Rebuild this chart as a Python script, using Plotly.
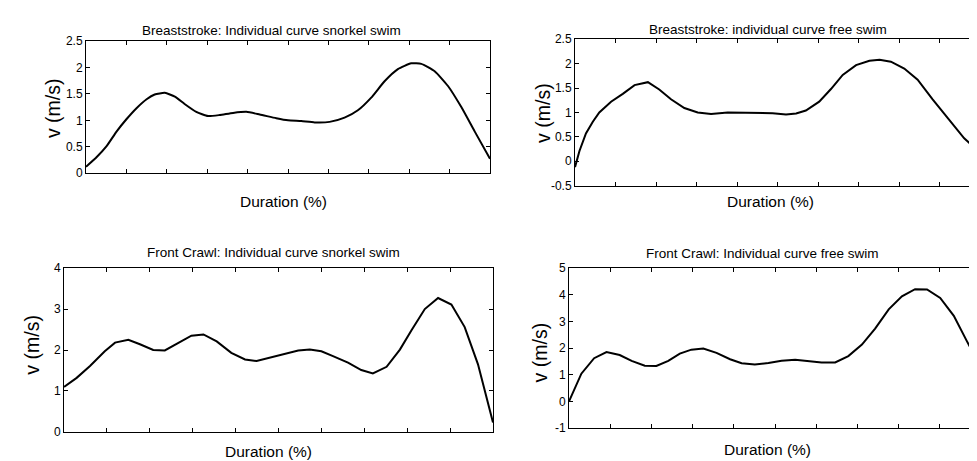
import plotly.graph_objects as go

W, H = 977, 461

# ---- data (Duration %, velocity m/s) ----
bs_snorkel_x = [0, 2.6, 5.1, 7.6, 10, 12.5, 15, 17, 19.5, 22, 24.4, 27.3, 30.2, 33.1, 36.4, 39.7, 43, 47.1, 50,
                53.3, 56.6, 60.3, 64, 67.3, 70.6, 73.9, 77.2, 80.5, 83, 86.3, 89.6, 92.9, 96.2, 100]
bs_snorkel_v = [0.12, 0.30, 0.51, 0.79, 1.02, 1.23, 1.40, 1.49, 1.52, 1.45, 1.31, 1.16, 1.08, 1.10, 1.14, 1.16, 1.11, 1.04, 1.0,
                0.985, 0.96, 0.97, 1.05, 1.19, 1.43, 1.74, 1.97, 2.08, 2.07, 1.93, 1.65, 1.25, 0.79, 0.27]

bs_free_x = [0, 1.1, 2.7, 4.4, 6.0, 8.9, 11.8, 14.7, 18.0, 20.8, 23.7, 27.0, 30.3, 33.6, 37.7, 43, 48.8, 52.1, 54.6,
             57.0, 60.3, 63.2, 66.1, 69.4, 72.7, 75.2, 78.0, 81.3, 84.6, 88.3, 92.4, 96.1, 100]
bs_free_v = [-0.12, 0.21, 0.57, 0.81, 1.0, 1.22, 1.38, 1.56, 1.62, 1.47, 1.27, 1.09, 1.0, 0.97, 1.0, 1.0, 0.985, 0.96, 0.98,
             1.04, 1.22, 1.48, 1.77, 1.97, 2.06, 2.08, 2.04, 1.90, 1.67, 1.27, 0.84, 0.47, 0.18]

fc_snorkel_x = [0, 2.95, 6.06, 9.5, 11.9, 15, 17.7, 20.8, 23.5, 26.6, 29.7, 32.5, 35.6, 39, 42.2, 44.9, 48, 51.5, 54.6, 57.3,
                60, 62.7, 66.2, 69.3, 72, 75.2, 78.3, 81, 84.1, 87.2, 90.3, 93.4, 96.5, 100]
fc_snorkel_v = [1.1, 1.32, 1.61, 1.97, 2.18, 2.25, 2.14, 2.0, 1.99, 2.17, 2.35, 2.38, 2.21, 1.93, 1.77, 1.73, 1.81, 1.91, 1.99, 2.01,
                1.97, 1.85, 1.69, 1.51, 1.43, 1.59, 2.01, 2.48, 3.0, 3.27, 3.11, 2.56, 1.65, 0.23]

fc_free_x = [0, 3, 6.1, 9.1, 12.3, 15.2, 18.4, 21.2, 24.1, 26.9, 29.7, 32.6, 35.8, 39.1, 41.9, 45.1, 48.4, 51.6, 54.9, 58.1,
             61.3, 64.6, 67.8, 71.1, 74.3, 77.6, 80.8, 84, 86.9, 90.1, 93.4, 96.6, 100]
fc_free_v = [0.0, 1.04, 1.62, 1.85, 1.74, 1.52, 1.34, 1.33, 1.52, 1.79, 1.94, 1.98, 1.82, 1.58, 1.43, 1.38, 1.44, 1.52, 1.56, 1.52,
             1.46, 1.46, 1.70, 2.13, 2.73, 3.45, 3.94, 4.21, 4.2, 3.88, 3.21, 2.25, 1.28]

titles = ["Breaststroke: Individual curve snorkel swim",
          "Breaststroke: individual curve free swim",
          "Front Crawl: Individual curve snorkel swim",
          "Front Crawl: Individual curve free swim"]

y_ticks = [[0, 0.5, 1, 1.5, 2, 2.5],
           [-0.5, 0, 0.5, 1, 1.5, 2, 2.5],
           [0, 1, 2, 3, 4],
           [-1, 0, 1, 2, 3, 4, 5]]
y_tick_text = [["0", "0.5", "1", "1.5", "2", "2.5"],
               ["-0.5", "0", "0.5", "1", "1.5", "2", "2.5"],
               ["0", "1", "2", "3", "4"],
               ["-1", "0", "1", "2", "3", "4", "5"]]
x_ticks = [0, 10, 20, 30, 40, 50, 60, 70, 80, 90, 100]

series = [(bs_snorkel_x, bs_snorkel_v, "spline"),
          (bs_free_x, bs_free_v, "linear"),
          (fc_snorkel_x, fc_snorkel_v, "linear"),
          (fc_free_x, fc_free_v, "linear")]

# plot-area pixel boxes: left, right, top, bottom
boxes = [(78, 482, 27, 163), (567, 972, 25, 176), (56, 485, 261, 430), (561, 973, 261, 426)]
title_pos = [(263, 16), (760, 15), (265, 245), (754, 246)]
xlab_pos = [(275, 192), (762, 192), (260, 450), (759, 448)]
ylab_pos = [(45, 96), (535, 101), (24, 340), (532, 348)]

FONT = "Liberation Sans, Arial, sans-serif"
fig = go.Figure()
layout = dict(width=W, height=H, margin=dict(l=0, r=0, t=0, b=0),
              paper_bgcolor="white", plot_bgcolor="white", showlegend=False,
              font=dict(family=FONT, color="black"))
annotations = []

for i, ((xs, vs, shape), (l, r, t, b)) in enumerate(zip(series, boxes)):
    n = "" if i == 0 else str(i + 1)
    fig.add_trace(go.Scatter(x=xs, y=vs, mode="lines",
                             line=dict(color="black", width=2, shape=shape, smoothing=0.5),
                             xaxis="x" + n, yaxis="y" + n))
    yt = y_ticks[i]
    layout["xaxis" + n] = dict(domain=[l / W, r / W], range=[0, 100], anchor="y" + n,
                               tickvals=x_ticks, showticklabels=False, ticks="inside",
                               ticklen=4, tickcolor="black", showline=True, linecolor="black",
                               linewidth=1, mirror="ticks", showgrid=False, zeroline=False)
    layout["yaxis" + n] = dict(domain=[1 - b / H, 1 - t / H], range=[yt[0], yt[-1]], anchor="x" + n,
                               tickvals=yt, ticktext=y_tick_text[i], ticks="inside",
                               ticklen=4, tickcolor="black", showline=True, linecolor="black",
                               linewidth=1, mirror="ticks", showgrid=False, zeroline=False,
                               tickfont=dict(size=12, family=FONT, color="black"))
    tx, ty = title_pos[i]
    annotations.append(dict(text=titles[i], x=tx / W, y=1 - ty / H, xref="paper", yref="paper",
                            showarrow=False, xanchor="center", yanchor="middle",
                            font=dict(size=13.5, family=FONT, color="black")))
    xx, xy = xlab_pos[i]
    annotations.append(dict(text="Duration (%)", x=xx / W, y=1 - xy / H, xref="paper", yref="paper",
                            showarrow=False, xanchor="center", yanchor="middle",
                            font=dict(size=15.5, family=FONT, color="black")))
    yx, yy = ylab_pos[i]
    annotations.append(dict(text="v (m/s)", x=yx / W, y=1 - yy / H, xref="paper", yref="paper",
                            showarrow=False, xanchor="center", yanchor="middle", textangle=-90,
                            font=dict(size=19.5, family=FONT, color="black")))

layout["annotations"] = annotations
fig.update_layout(**layout)
fig.write_html("out.html")
